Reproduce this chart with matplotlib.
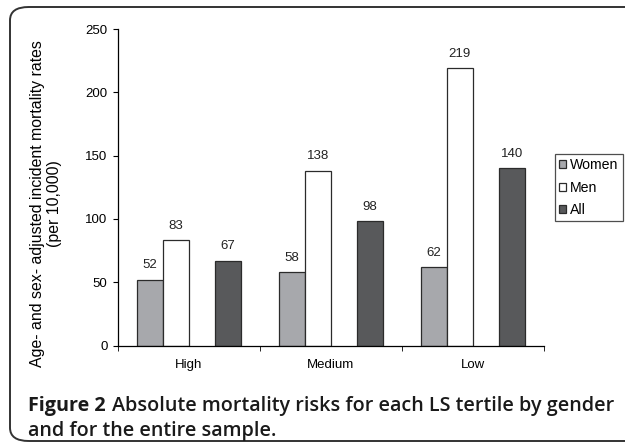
import matplotlib.pyplot as plt
import numpy as np
from matplotlib.patches import FancyBboxPatch

tertiles = ["High", "Medium", "Low"]
women = [52, 58, 62]
men = [83, 138, 219]
all_ = [67, 98, 140]

plt.rcParams['font.family'] = ['Liberation Sans', 'DejaVu Sans']

fig = plt.figure(figsize=(6.25, 4.43), dpi=100)

# rounded frame around the figure (runs off the right and bottom edges)
frame = FancyBboxPatch((10 / 625, 2 / 443), 700 / 625, 434 / 443,
                       boxstyle="round,pad=0,rounding_size=0.03",
                       transform=fig.transFigure, fill=False,
                       edgecolor="#333333", linewidth=1.4, clip_on=False)
fig.patches.append(frame)

ax = fig.add_axes([118 / 625, 1 - 345.5 / 443, 426 / 625, 316.5 / 443])

x = np.arange(len(tertiles))
w = 0.183
b1 = ax.bar(x - 0.275, women, w, color="#a7a8ac", edgecolor="#2b2b2b", linewidth=0.9, label="Women")
b2 = ax.bar(x - 0.092, men, w, color="white", edgecolor="#2b2b2b", linewidth=0.9, label="Men")
b3 = ax.bar(x + 0.275, all_, w, color="#58595b", edgecolor="#2b2b2b", linewidth=0.9, label="All")

for bars in (b1, b2, b3):
    ax.bar_label(bars, padding=6, fontsize=9.5, color="#222222")

ax.set_xlim(-0.5, 2.5)
ax.set_ylim(0, 250)
ax.set_yticks([0, 50, 100, 150, 200, 250])
ax.set_xticks(x)
ax.set_xticklabels(tertiles)
ax.set_xticks([-0.5, 0.5, 1.5, 2.5], minor=True)
ax.tick_params(axis="x", which="major", length=0, pad=9.5, labelsize=9.5)
ax.tick_params(axis="x", which="minor", length=3.5, direction="out")
ax.tick_params(axis="y", length=3.5, labelsize=9.5, pad=4)
for s in ("top", "right"):
    ax.spines[s].set_visible(False)
ax.spines["left"].set_linewidth(0.9)
ax.spines["bottom"].set_linewidth(0.9)

ax.set_ylabel("Age- and sex- adjusted incident mortality rates\n(per 10,000)",
              fontsize=11.4, linespacing=1.2)
ax.yaxis.set_label_coords(-0.131, 0.45)

leg = ax.legend(loc="upper left", bbox_to_anchor=(555 / 625, 1 - 154 / 443),
                bbox_transform=fig.transFigure, fontsize=10.2, frameon=True,
                fancybox=False, edgecolor="#222222", handlelength=0.45,
                handleheight=0.45, handletextpad=0.3, borderpad=0.3,
                labelspacing=0.6, borderaxespad=0)
leg.get_frame().set_linewidth(0.9)

# caption
fig.canvas.draw()
r = fig.canvas.get_renderer()
cap = dict(fontsize=14.2, family="Open Sans", va="center", color="#1a1a1a")
t1 = fig.text(28 / 625, 1 - 406 / 443, "Figure 2", fontweight="bold", **cap)
bb = t1.get_window_extent(r)
fig.text((bb.x1 + 6) / 625, 1 - 406 / 443,
         "Absolute mortality risks for each LS tertile by gender",
         fontweight="semibold", **cap)
fig.text(28 / 625, 1 - 431 / 443, "and for the entire sample.",
         fontweight="semibold", **cap)

fig.savefig("out.png", dpi=100)
